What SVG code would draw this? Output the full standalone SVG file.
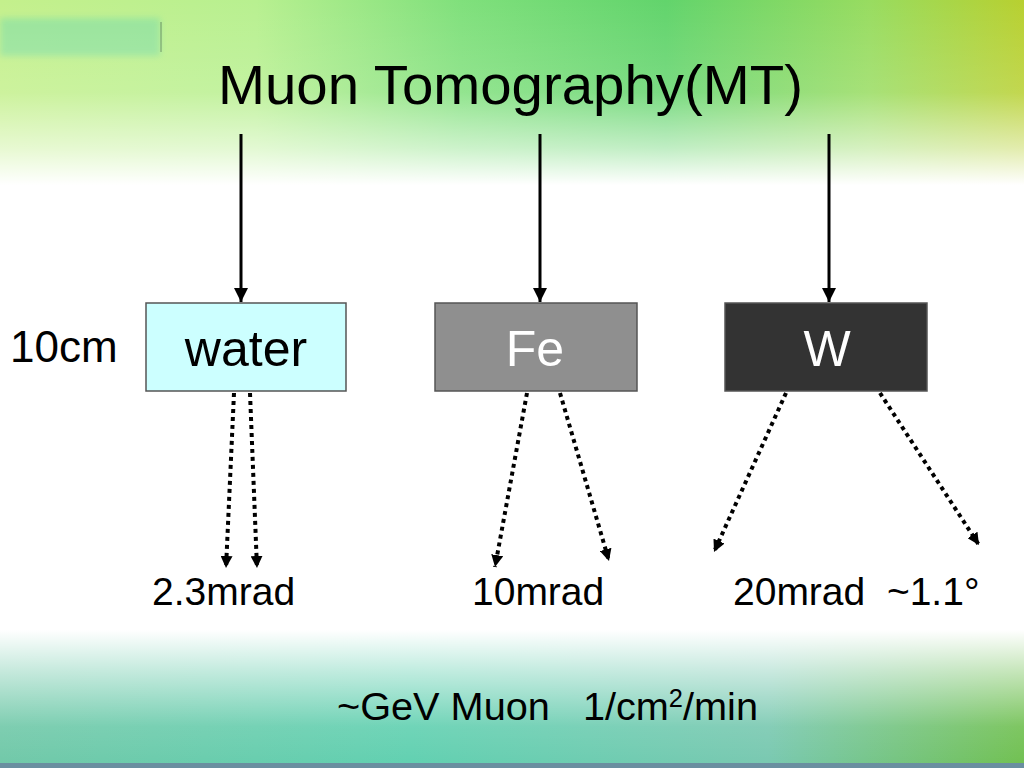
<svg xmlns="http://www.w3.org/2000/svg" width="1024" height="768" viewBox="0 0 1024 768">
<defs>
<linearGradient id="topH" x1="0" y1="0" x2="1" y2="0">
<stop offset="0" stop-color="#c4f08c"/>
<stop offset="0.25" stop-color="#b8f090"/>
<stop offset="0.45" stop-color="#80e07c"/>
<stop offset="0.65" stop-color="#62d46c"/>
<stop offset="0.85" stop-color="#98dc60"/>
<stop offset="1" stop-color="#b8d030"/>
</linearGradient>
<linearGradient id="topV" x1="0" y1="0" x2="0" y2="1">
<stop offset="0" stop-color="#fff" stop-opacity="0"/>
<stop offset="0.5" stop-color="#fff" stop-opacity="0.15"/>
<stop offset="0.8" stop-color="#fff" stop-opacity="0.6"/>
<stop offset="1" stop-color="#fff" stop-opacity="1"/>
</linearGradient>
<linearGradient id="botH" x1="0" y1="0" x2="1" y2="0">
<stop offset="0" stop-color="#70c8a8"/>
<stop offset="0.4" stop-color="#60d0b0"/>
<stop offset="0.75" stop-color="#78c8b0"/>
<stop offset="1" stop-color="#70c050"/>
</linearGradient>
<linearGradient id="botV" x1="0" y1="0" x2="0" y2="1">
<stop offset="0" stop-color="#fff" stop-opacity="1"/>
<stop offset="0.3" stop-color="#fff" stop-opacity="0.6"/>
<stop offset="0.7" stop-color="#fff" stop-opacity="0.1"/>
<stop offset="1" stop-color="#fff" stop-opacity="0"/>
</linearGradient>
<filter id="soft" x="-20%" y="-50%" width="140%" height="200%"><feGaussianBlur stdDeviation="3"/></filter>
<marker id="solidHead" markerUnits="userSpaceOnUse" markerWidth="14" markerHeight="14" viewBox="0 0 14 14" refX="14" refY="7" orient="auto">
<path d="M0,0 L14,7 L0,14 Z" fill="#000"/>
</marker>
<marker id="dotHead" markerUnits="userSpaceOnUse" markerWidth="12" markerHeight="12" viewBox="0 0 12 12" refX="12" refY="6" orient="auto">
<path d="M0,0 L12,6 L0,12 Z" fill="#000"/>
</marker>
</defs>
<style>
.lbl{font-family:"Liberation Sans",Arial,sans-serif;fill:#000}
.solid{stroke:#000;stroke-width:3;fill:none;marker-end:url(#solidHead)}
.dot{stroke:#000;stroke-width:4;stroke-dasharray:4 4;fill:none;marker-end:url(#dotHead)}
.box{stroke:#555;stroke-width:1.5}
</style>
<g id="background">
<rect x="0" y="0" width="1024" height="768" fill="#fff"/>
<rect x="0" y="0" width="1024" height="185" fill="url(#topH)"/>
<rect x="0" y="18" width="160" height="38" fill="#88e0a0" opacity="0.7" filter="url(#soft)"/>
<line x1="161" y1="22" x2="161" y2="52" stroke="#446644" stroke-width="1" opacity="0.7"/>
<rect x="0" y="0" width="1024" height="185" fill="url(#topV)"/>
<rect x="0" y="630" width="1024" height="138" fill="url(#botH)"/>
<rect x="0" y="630" width="1024" height="138" fill="url(#botV)"/>
<rect x="0" y="763" width="1024" height="5" fill="#6a8fa0"/>
</g>
<g id="title">
<text class="lbl" x="218" y="104" font-size="56" textLength="585" lengthAdjust="spacingAndGlyphs">Muon Tomography(MT)</text>
</g>
<g id="label-10cm"><text class="lbl" x="10" y="362" font-size="44">10cm</text></g>
<g id="water">
<rect class="box" x="146" y="303" width="200" height="88" fill="#ccffff"/>
<text class="lbl" x="246" y="366" font-size="50" text-anchor="middle">water</text>
</g>
<g id="fe">
<rect class="box" x="435" y="303" width="202" height="88" fill="#8f8f8f"/>
<text class="lbl" x="535" y="366" font-size="50" text-anchor="middle" style="fill:#fff">Fe</text>
</g>
<g id="w">
<rect class="box" x="725" y="303" width="202" height="88" fill="#333333"/>
<text class="lbl" x="827" y="366" font-size="50" text-anchor="middle" style="fill:#fff">W</text>
</g>
<g id="connectors">
<line class="solid" x1="241" y1="134" x2="241" y2="302"/>
<line class="solid" x1="540" y1="134" x2="540" y2="302"/>
<line class="solid" x1="829" y1="134" x2="829" y2="302"/>
<line class="dot" x1="234" y1="393" x2="226" y2="568"/>
<line class="dot" x1="250" y1="393" x2="257" y2="568"/>
<line class="dot" x1="527" y1="393" x2="495" y2="567"/>
<line class="dot" x1="560" y1="393" x2="609" y2="561"/>
<line class="dot" x1="786" y1="393" x2="714" y2="552"/>
<line class="dot" x1="880" y1="393" x2="979" y2="545"/>
</g>
<g id="labels">
<text class="lbl" x="152" y="605" font-size="39">2.3mrad</text>
<text class="lbl" x="472" y="605" font-size="39">10mrad</text>
<text class="lbl" x="733" y="605" font-size="39" xml:space="preserve">20mrad  ~1.1°</text>
<text class="lbl" x="337" y="720" font-size="39" textLength="421" lengthAdjust="spacingAndGlyphs" xml:space="preserve">~GeV Muon   1/cm<tspan font-size="25" dy="-13">2</tspan><tspan dy="13">/min</tspan></text>
</g>
</svg>
